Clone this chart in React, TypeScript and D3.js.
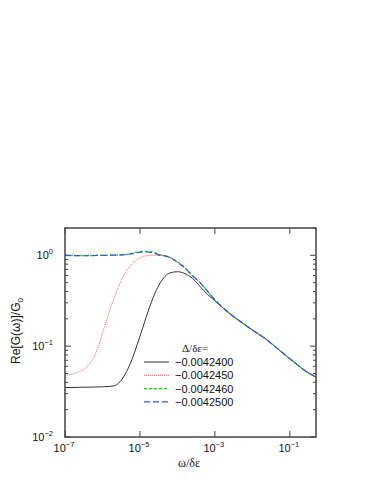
import React, { useEffect, useRef } from 'react';
import * as d3 from 'd3';

// omega / delta-epsilon, Re[G]/G0 pairs
const seriesBlack: [number, number][] = [
  [1e-7, 0.035], [3e-7, 0.0353], [1e-6, 0.0357], [2e-6, 0.0365], [3e-6, 0.041],
  [5.6e-6, 0.065], [9.3e-6, 0.117], [1.7e-5, 0.25], [2.5e-5, 0.38], [3.5e-5, 0.5],
  [6.3e-5, 0.64], [1e-4, 0.66], [1.6e-4, 0.63], [2.5e-4, 0.56], [5e-4, 0.41],
  [1.26e-3, 0.29], [3.1e-3, 0.212], [4.7e-3, 0.188], [1e-2, 0.151], [2.4e-2, 0.118],
  [5.5e-2, 0.089], [0.123, 0.068], [0.25, 0.054], [0.5, 0.0455]
];
const seriesRed: [number, number][] = [
  [1e-7, 0.048], [1.5e-7, 0.049], [2.3e-7, 0.052], [4e-7, 0.06], [7.2e-7, 0.091],
  [1.1e-6, 0.158], [2e-6, 0.33], [3.7e-6, 0.6], [6.9e-6, 0.84], [1.3e-5, 0.98],
  [2.3e-5, 1.0], [3.5e-5, 1.0], [5e-5, 0.98], [1e-4, 0.84], [1.4e-4, 0.76],
  [2.5e-4, 0.6], [4e-4, 0.5], [1.1e-3, 0.31], [3.1e-3, 0.214], [4.7e-3, 0.188],
  [1e-2, 0.151], [2.4e-2, 0.118], [5.5e-2, 0.089], [0.123, 0.068], [0.25, 0.054],
  [0.5, 0.0455]
];
const seriesGreen: [number, number][] = [
  [1e-7, 1.0], [3e-7, 0.99], [1e-6, 1.0], [3e-6, 1.01], [6e-6, 1.05], [1.2e-5, 1.11],
  [2e-5, 1.1], [3.5e-5, 1.01], [5e-5, 0.98], [1e-4, 0.85], [1.4e-4, 0.77],
  [2.5e-4, 0.6], [4e-4, 0.5], [1.1e-3, 0.31], [3.1e-3, 0.214], [4.7e-3, 0.188],
  [1e-2, 0.151], [2.4e-2, 0.118], [5.5e-2, 0.089], [0.123, 0.068], [0.25, 0.054],
  [0.5, 0.0455]
];
const seriesBlue: [number, number][] = [
  [1e-7, 1.0], [3e-7, 0.99], [1e-6, 1.0], [3e-6, 1.01], [6e-6, 1.04], [1.2e-5, 1.09],
  [2e-5, 1.08], [3.5e-5, 1.0], [5e-5, 0.98], [1e-4, 0.84], [1.4e-4, 0.76],
  [2.5e-4, 0.6], [4e-4, 0.5], [1.1e-3, 0.31], [3.1e-3, 0.214], [4.7e-3, 0.188],
  [1e-2, 0.151], [2.4e-2, 0.118], [5.5e-2, 0.089], [0.123, 0.068], [0.25, 0.054],
  [0.5, 0.0455]
];

const legendLabels = ['\u22120.0042400', '\u22120.0042450', '\u22120.0042460', '\u22120.0042500'];
const xTickExps = [-7, -5, -3, -1];
const yTickExps = [0, -1, -2];

const App = () => {
  const ref = useRef<SVGSVGElement>(null);

  useEffect(() => {
    const svg = d3.select(ref.current);
    svg.selectAll('*').remove();

    const left = 65, right = 316, top = 228, bottom = 437;
    const x = d3.scaleLog().domain([1e-7, 0.5]).range([left, right]);
    const y = d3.scaleLog().domain([0.01, 2]).range([bottom, top]);

    const frame = '#444';
    const sans = 'Liberation Sans, Arial, sans-serif';
    const serif = 'Liberation Serif, Times New Roman, serif';

    // ticks
    const g = svg.append('g').attr('stroke', frame).attr('stroke-width', 1);
    xTickExps.forEach(e => {
      const px = x(Math.pow(10, e));
      g.append('line').attr('x1', px).attr('x2', px).attr('y1', bottom).attr('y2', bottom - 6);
      g.append('line').attr('x1', px).attr('x2', px).attr('y1', top).attr('y2', top + 6);
    });
    const yMinor: number[] = [];
    for (let e = -2; e <= 0; e++) {
      for (let m = 1; m <= 9; m++) {
        const v = m * Math.pow(10, e);
        if (v <= 2) yMinor.push(v);
      }
    }
    yMinor.forEach(v => {
      const py = y(v);
      const len = Math.abs(Math.log10(v) - Math.round(Math.log10(v))) < 1e-9 ? 6 : 3;
      g.append('line').attr('x1', left).attr('x2', left + len).attr('y1', py).attr('y2', py);
      g.append('line').attr('x1', right).attr('x2', right - len).attr('y1', py).attr('y2', py);
    });

    // tick labels
    xTickExps.forEach(e => {
      const t = svg.append('text')
        .attr('x', x(Math.pow(10, e)) - 1)
        .attr('y', 452)
        .attr('text-anchor', 'middle')
        .attr('font-family', sans)
        .attr('font-size', 11)
        .attr('fill', '#111');
      t.append('tspan').text('10');
      t.append('tspan').attr('dy', -5).attr('font-size', 7.5).text('\u2212' + Math.abs(e));
    });
    yTickExps.forEach(e => {
      const t = svg.append('text')
        .attr('x', 53)
        .attr('y', y(Math.pow(10, e)) + 4)
        .attr('text-anchor', 'end')
        .attr('font-family', sans)
        .attr('font-size', 11)
        .attr('fill', '#111');
      t.append('tspan').text('10');
      t.append('tspan').attr('dy', -5).attr('font-size', 7.5).text(e === 0 ? '0' : '\u2212' + Math.abs(e));
    });

    // axis titles
    svg.append('text')
      .attr('x', 189)
      .attr('y', 467)
      .attr('text-anchor', 'middle')
      .attr('font-family', serif)
      .attr('font-size', 12)
      .attr('fill', '#111')
      .text('\u03c9/\u03b4\u03b5');

    const yl = svg.append('text')
      .attr('transform', 'translate(20,331) rotate(-90)')
      .attr('text-anchor', 'middle')
      .attr('font-family', sans)
      .attr('font-size', 12)
      .attr('fill', '#111');
    yl.append('tspan').text('Re[G(\u03c9)]/G');
    yl.append('tspan').attr('dy', 3).attr('font-size', 8).text('0');

    // curves
    const line = d3.line<[number, number]>()
      .x(d => x(d[0]))
      .y(d => y(d[1]))
      .curve(d3.curveMonotoneX);

    const styles = [
      { data: seriesBlack, color: '#333', dash: null, width: 1 },
      { data: seriesRed, color: '#ff4040', dash: '1 1', width: 0.9 },
      { data: seriesGreen, color: '#00e000', dash: '3 2', width: 1.2 },
      { data: seriesBlue, color: '#3b4cf0', dash: '6 3', width: 1.2 }
    ];

    styles.forEach(s => {
      const p = svg.append('path')
        .datum(s.data)
        .attr('d', line)
        .attr('fill', 'none')
        .attr('stroke', s.color)
        .attr('stroke-width', s.width);
      if (s.dash) p.attr('stroke-dasharray', s.dash);
    });

    // frame
    svg.append('rect')
      .attr('x', left)
      .attr('y', top)
      .attr('width', right - left)
      .attr('height', bottom - top)
      .attr('fill', 'none')
      .attr('stroke', frame)
      .attr('stroke-width', 1.5);

    // legend
    svg.append('text')
      .attr('x', 182)
      .attr('y', 352)
      .attr('font-family', serif)
      .attr('font-size', 11)
      .attr('fill', '#111')
      .text('\u0394/\u03b4\u03b5=');

    styles.forEach((s, i) => {
      const ly = 362 + i * 13.3;
      const l = svg.append('line')
        .attr('x1', 144).attr('x2', 169)
        .attr('y1', ly).attr('y2', ly)
        .attr('stroke', s.color)
        .attr('stroke-width', s.width);
      if (s.dash) l.attr('stroke-dasharray', s.dash);
      svg.append('text')
        .attr('x', 175)
        .attr('y', ly + 4)
        .attr('font-family', sans)
        .attr('font-size', 11)
        .attr('fill', '#111')
        .text(legendLabels[i]);
    });
  }, []);

  return (
    <svg
      ref={ref}
      width={382}
      height={494}
      style={{ position: 'absolute', left: 0, top: 0, background: '#fff' }}
    />
  );
};

export default App;
